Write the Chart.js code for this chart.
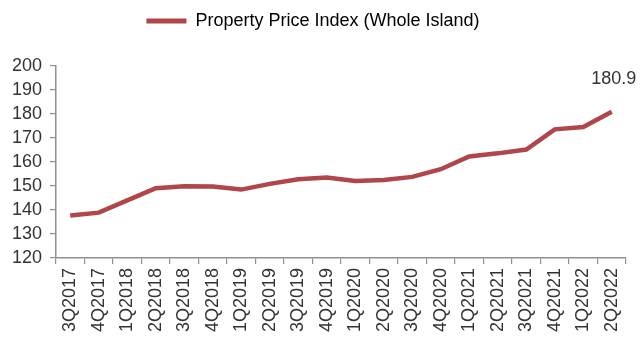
<!DOCTYPE html>
<html>
<head>
<meta charset="utf-8">
<script src="https://cdn.jsdelivr.net/npm/chart.js@4"></script>
<style>
  html, body { margin: 0; padding: 0; background: #ffffff; }
  #wrap { width: 641px; height: 347px; position: relative; }
</style>
</head>
<body>
<div id="wrap"><canvas id="c"></canvas></div>
<script>
// Quarterly property price index, whole island
const quarters = ['3Q2017','4Q2017','1Q2018','2Q2018','3Q2018','4Q2018','1Q2019','2Q2019','3Q2019','4Q2019',
                  '1Q2020','2Q2020','3Q2020','4Q2020','1Q2021','2Q2021','3Q2021','4Q2021','1Q2022','2Q2022'];
const priceIndex = [137.7, 138.9, 144.0, 149.1, 149.9, 149.8, 148.5, 150.9, 152.8, 153.5,
                    152.1, 152.5, 153.8, 157.0, 162.3, 163.6, 165.2, 173.6, 174.6, 180.9];
const seriesName = 'Property Price Index (Whole Island)';
const yTicks = [120, 130, 140, 150, 160, 170, 180, 190, 200];

const lineColor = '#b0464a';
const textColor = '#333333';
const axisColor = '#8f8f8f';
const fontFamily = '"Liberation Sans", Arial, sans-serif';

// Extra space between the legend and the plot area
const legendGap = {
  id: 'legendGap',
  beforeInit(chart) {
    const legend = chart.legend;
    const fit = legend.fit;
    legend.fit = function () {
      fit.call(this);
      this.height += 26;
    };
  }
};

// Writes the latest value above the last point of the series
const lastValueLabel = {
  id: 'lastValueLabel',
  afterDatasetsDraw(chart) {
    const meta = chart.getDatasetMeta(0);
    const i = priceIndex.length - 1;
    const pt = meta.data[i];
    const ctx = chart.ctx;
    ctx.save();
    ctx.font = '18px ' + fontFamily;
    ctx.fillStyle = textColor;
    ctx.textAlign = 'center';
    ctx.textBaseline = 'middle';
    ctx.fillText(priceIndex[i].toFixed(1), pt.x + 2, pt.y - 33);
    ctx.restore();
  }
};

new Chart(document.getElementById('c'), {
  type: 'line',
  data: {
    labels: quarters,
    datasets: [{
      label: seriesName,
      data: priceIndex,
      borderColor: lineColor,
      backgroundColor: lineColor,
      borderWidth: 4.5,
      pointRadius: 0,
      tension: 0,
      fill: false
    }]
  },
  options: {
    responsive: true,
    maintainAspectRatio: false,
    animation: false,
    layout: { padding: { left: 0, right: 15, top: 0, bottom: 0 } },
    plugins: {
      legend: {
        display: true,
        position: 'top',
        labels: {
          boxWidth: 40,
          boxHeight: 5,
          padding: 12,
          color: textColor,
          font: { size: 18, family: fontFamily },
          generateLabels(chart) {
            return [{
              text: seriesName,
              fillStyle: lineColor,
              strokeStyle: lineColor,
              lineWidth: 0,
              datasetIndex: 0
            }];
          }
        }
      },
      tooltip: { enabled: false }
    },
    scales: {
      x: {
        type: 'category',
        offset: true,
        afterFit(scale) { scale.height = 89; },
        grid: {
          display: true,
          offset: true,
          drawOnChartArea: false,
          drawTicks: true,
          tickLength: 6,
          color: axisColor,
          lineWidth: 1.2
        },
        border: { display: true, color: axisColor, width: 1.5 },
        ticks: {
          autoSkip: false,
          minRotation: 90,
          maxRotation: 90,
          padding: 4,
          color: textColor,
          font: { size: 18, family: fontFamily }
        }
      },
      y: {
        min: 120,
        max: 200,
        afterFit(scale) { scale.width = 56; },
        afterBuildTicks(scale) { scale.ticks = yTicks.map(v => ({ value: v })); },
        grid: {
          display: true,
          drawOnChartArea: false,
          drawTicks: true,
          tickLength: 6,
          color: axisColor,
          lineWidth: 1.2
        },
        border: { display: true, color: axisColor, width: 1.5 },
        ticks: {
          autoSkip: false,
          padding: 8,
          color: textColor,
          font: { size: 18, family: fontFamily }
        }
      }
    }
  },
  plugins: [legendGap, lastValueLabel]
});
</script>
</body>
</html>
